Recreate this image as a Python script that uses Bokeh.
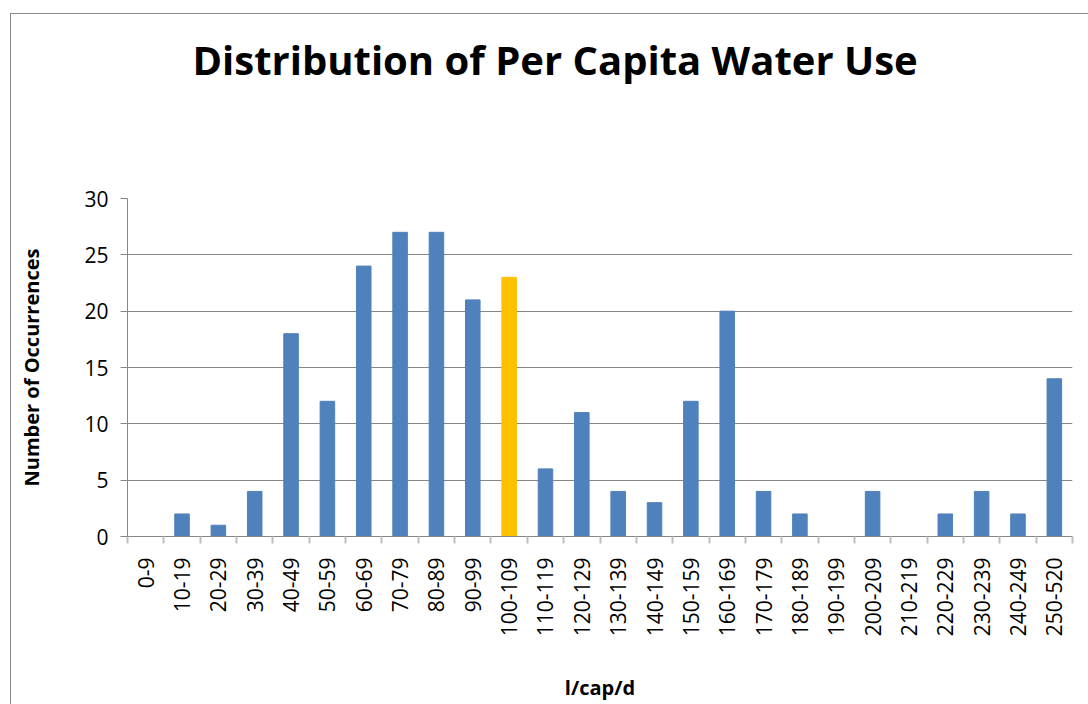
import math
from bokeh.plotting import figure
from bokeh.models import FixedTicker, ColumnDataSource, Title
from bokeh.embed import file_html
from bokeh.resources import INLINE

# Per capita water use bins (litres per capita per day) and counts
bins = ["0-9", "10-19", "20-29", "30-39", "40-49", "50-59", "60-69", "70-79",
        "80-89", "90-99", "100-109", "110-119", "120-129", "130-139", "140-149",
        "150-159", "160-169", "170-179", "180-189", "190-199", "200-209",
        "210-219", "220-229", "230-239", "240-249", "250-520"]
counts = [0, 2, 1, 4, 18, 12, 24, 27, 27, 21, 23, 6, 11, 4, 3, 12, 20, 4, 2,
          0, 4, 0, 2, 4, 2, 14]
highlight_bin = "100-109"
y_ticks = [0, 5, 10, 15, 20, 25, 30]
title_text = "Distribution of Per Capita Water Use"

BLUE = "#4F81BD"
GOLD = "#FFC000"
GRID = "#868686"
FONT = "Open Sans"

n = len(bins)
centers = [i + 0.5 for i in range(n)]
colors = [GOLD if b == highlight_bin else BLUE for b in bins]
src = ColumnDataSource(dict(x=centers, top=counts, color=colors, label=bins))

p = figure(width=1080, height=697, x_range=(0, n), y_range=(0, 30),
           output_backend="svg", toolbar_location=None,
           min_border_left=116, min_border_right=19,
           min_border_top=184, min_border_bottom=175)
p.styles = {"margin-left": "10px", "margin-top": "13px",
            "border": "1px solid #8c8c8c"}
p.title.visible = False

p.vbar(x="x", top="top", width=0.4, color="color", source=src)

# Title: a blank spacer row keeps the heading well clear of the bars
title_style = dict(text_font=FONT, text_font_size="40px",
                   text_font_style="bold", text_color="black")
p.add_layout(Title(text=" ", standoff=50, **title_style), "above")
p.add_layout(Title(text=title_text, align="left", offset=65, standoff=10,
                   **title_style), "above")

# X axis: labels at bin centres, short ticks at bin boundaries
xa = p.xaxis[0]
xa.ticker = FixedTicker(ticks=centers, minor_ticks=list(range(n + 1)))
xa.major_label_overrides = {c: b for c, b in zip(centers, bins)}
xa.major_label_orientation = math.pi / 2
xa.major_tick_out = 0
xa.major_tick_in = 0
xa.minor_tick_out = 7
xa.minor_tick_in = 0
xa.minor_tick_line_color = "#BFBFBF"
xa.minor_tick_line_width = 2
xa.axis_line_color = GRID
xa.major_label_text_font = FONT
xa.major_label_text_font_size = "21px"
xa.major_label_text_color = "black"
xa.major_label_standoff = 14
xa.axis_label = "l/cap/d"
xa.axis_label_text_font = FONT
xa.axis_label_text_font_size = "20px"
xa.axis_label_text_font_style = "bold"
xa.axis_label_text_color = "black"
xa.axis_label_standoff = 35

# Y axis
ya = p.yaxis[0]
ya.ticker = FixedTicker(ticks=y_ticks)
ya.minor_tick_line_color = None
ya.major_tick_out = 7
ya.major_tick_in = 0
ya.major_tick_line_color = GRID
ya.axis_line_color = GRID
ya.major_label_text_font = FONT
ya.major_label_text_font_size = "21px"
ya.major_label_text_color = "black"
ya.major_label_standoff = 12
ya.axis_label = "Number of Occurrences"
ya.axis_label_text_font = FONT
ya.axis_label_text_font_size = "20px"
ya.axis_label_text_font_style = "bold"
ya.axis_label_text_color = "black"
ya.axis_label_standoff = 36

p.xgrid.grid_line_color = None
p.ygrid.grid_line_color = GRID
p.ygrid.grid_line_width = 1
p.outline_line_color = None
p.background_fill_color = "white"
p.border_fill_color = "white"

open("out.html", "w").write(file_html(p, INLINE))
